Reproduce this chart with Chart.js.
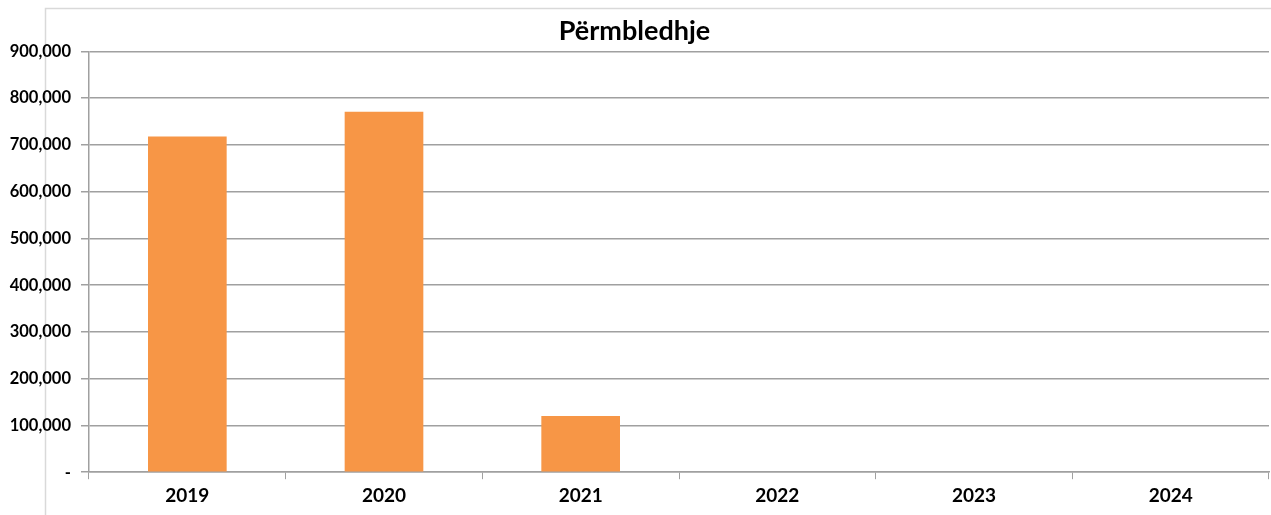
<!DOCTYPE html>
<html>
<head>
<meta charset="utf-8">
<script src="https://cdn.jsdelivr.net/npm/chart.js@4.4.1/dist/chart.umd.min.js"></script>
<style>
  html, body { margin: 0; padding: 0; background: #fff; }
  #wrap { width: 1271px; height: 515px; position: relative; }
</style>
</head>
<body>
<div id="wrap"><canvas id="c" width="1271" height="515"></canvas></div>
<script>
const years = ['2019', '2020', '2021', '2022', '2023', '2024'];
const totals = [718000, 771000, 120000, 0, 0, 0];
const yMax = 900000;
const yStep = 100000;

// light outer frame of the chart area (top + left edge visible)
const frame = {
    id: 'frame',
    beforeDraw(chart) {
        const c = chart.ctx;
        c.save();
        c.strokeStyle = '#d9d9d9';
        c.lineWidth = 1.5;
        c.beginPath();
        c.moveTo(45.5, 515);
        c.lineTo(45.5, 8.5);
        c.lineTo(1271, 8.5);
        c.stroke();
        c.restore();
    }
};

const font = "Lato, 'Noto Sans', sans-serif";

new Chart(document.getElementById('c'), {
    type: 'bar',
    data: {
        labels: years,
        datasets: [{
            data: totals,
            backgroundColor: '#F79646',
            barPercentage: 0.4,
            categoryPercentage: 1.0
        }]
    },
    options: {
        responsive: false,
        animation: false,
        layout: { padding: { left: 0, right: 2, top: 0, bottom: 3 } },
        plugins: {
            legend: { display: false },
            tooltip: { enabled: false },
            title: {
                display: true,
                text: 'Përmbledhje',
                color: '#000',
                font: { family: font, size: 27, weight: 'bold' },
                padding: { top: 15, bottom: 4 }
            }
        },
        scales: {
            x: {
                grid: { drawOnChartArea: false, drawTicks: true, tickLength: 7, color: '#a0a0a0', offset: true },
                border: { display: true, color: '#a0a0a0', width: 1.5 },
                ticks: { color: '#000', font: { family: font, size: 19, weight: 'bold' }, padding: 5 }
            },
            y: {
                min: 0,
                max: yMax,
                afterFit(scale) { scale.width = 89; },
                grid: { color: '#a0a0a0', lineWidth: 1.5, tickLength: 8 },
                border: { display: true, color: '#a0a0a0', width: 1.5 },
                ticks: {
                    stepSize: yStep,
                    color: '#000',
                    padding: 10,
                    font: { family: font, size: 16.5, weight: 'bold' },
                    callback: v => v === 0 ? '-' : v.toLocaleString('en-US')
                }
            }
        }
    },
    plugins: [frame]
});
</script>
</body>
</html>
